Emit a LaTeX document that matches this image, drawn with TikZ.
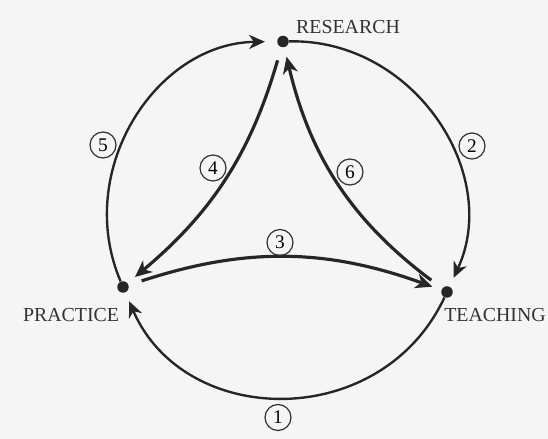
\documentclass[tikz,border=0pt]{standalone}
\usepackage{fontspec}
\setmainfont{Liberation Serif}
\usetikzlibrary{arrows.meta}

\begin{document}
\begin{tikzpicture}[
    dot/.style={circle,fill=black!85,inner sep=0pt,minimum size=0.23cm},
    lbl/.style={font=\fontsize{11.3}{13}\selectfont,inner sep=0pt,text=black!80},
    num/.style={circle,draw=black!80,line width=0.7pt,inner sep=0pt,minimum size=0.52cm,font=\fontsize{11}{13}\selectfont},
    outer/.style={-{Stealth[length=9pt,width=8pt,inset=2.8pt]},line width=1.35pt,draw=black!85,shorten >=0.19cm},
    inner/.style={-{Stealth[length=9.5pt,width=8.5pt,inset=2.8pt]},line width=1.8pt,draw=black!85,shorten >=0.19cm,shorten <=0.27cm}
  ]
  \fill[black!4] (0,0) rectangle (10.96,8.78);
  \useasboundingbox (0,0) rectangle (10.96,8.78);

  \node[dot] (res) at (5.66,7.95) {};
  \node[dot] (prac) at (2.46,3.04) {};
  \node[dot] (teach) at (8.94,2.94) {};

  \node[lbl] (restxt) at (6.96,8.24) {RESEARCH};
  \node[lbl] (practxt) at (1.42,2.48) {PRACTICE};
  \node[lbl] (teachtxt) at (9.90,2.48) {TEACHING};

  % outer circle
  \draw[outer] (teach) to[bend left=65.75,looseness=1.19] (prac);
  \draw[outer] (res) to[bend left=58.05,looseness=1.09] (teach);
  \draw[outer,shorten >=0.24cm] (prac) to[bend left=56.2,looseness=1.08] (res);

  % inner curves
  \draw[inner] (prac) to[bend left=19] (teach);
  \draw[inner] (res) to[bend left=17] (prac);
  \draw[inner] (teach) to[bend left=20] (res);

  \node[num] (n1) at (5.56,0.43) {1};
  \node[num] (n2) at (9.44,5.86) {2};
  \node[num] (n3) at (5.60,3.93) {3};
  \node[num] (n4) at (4.26,5.42) {4};
  \node[num] (n5) at (2.06,5.88) {5};
  \node[num] (n6) at (7.00,5.34) {6};
\end{tikzpicture}
\end{document}
